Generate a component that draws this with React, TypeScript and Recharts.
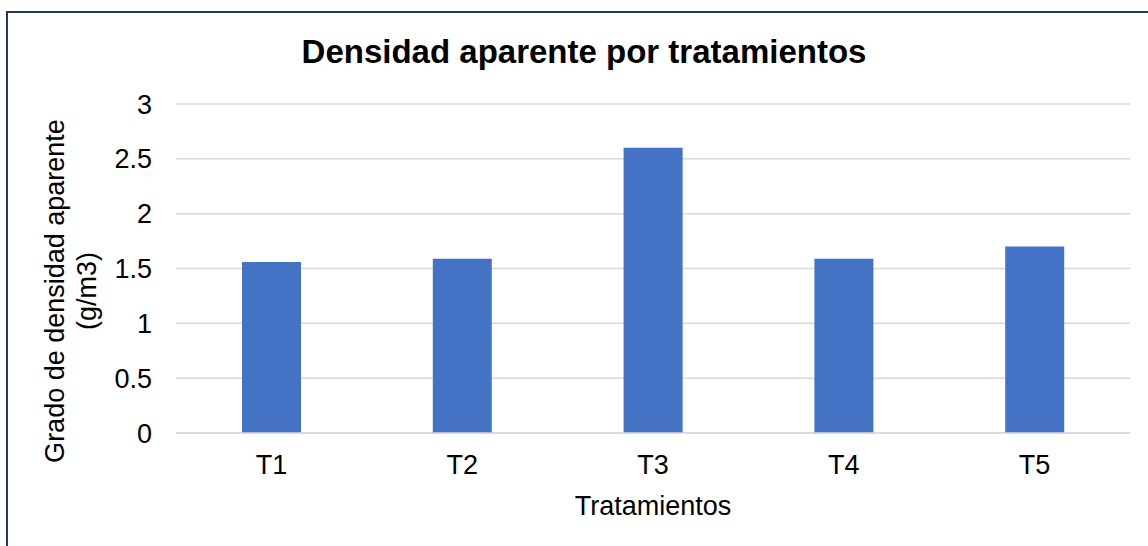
import { BarChart, Bar, XAxis, YAxis, CartesianGrid } from 'recharts';

const categories = ['T1', 'T2', 'T3', 'T4', 'T5'];
const densidad = [1.56, 1.59, 2.6, 1.59, 1.7];
const yTicks = [0, 0.5, 1, 1.5, 2, 2.5, 3];

const data = categories.map((c, i) => ({ tratamiento: c, densidad: densidad[i] }));

const FONT = '"Liberation Sans", Arial, sans-serif';

const renderYLabel = () => (
  <text fontSize={27} fill="#000" fontFamily={FONT} textAnchor="middle" transform="rotate(-90 64 291)">
    <tspan x={64} y={291}>Grado de densidad aparente</tspan>
    <tspan x={64} y={323}>(g/m3)</tspan>
  </text>
);

const renderXLabel = (props: any) => {
  const vb = props.viewBox || {};
  return (
    <text x={vb.x + vb.width / 2} y={515} fontSize={27} fill="#000" fontFamily={FONT} textAnchor="middle">
      Tratamientos
    </text>
  );
};

export default function App() {
  return (
    <div
      style={{
        position: 'absolute',
        left: 0,
        top: 0,
        width: 1148,
        height: 546,
        background: '#fff',
        overflow: 'hidden',
        fontFamily: FONT,
      }}
    >
      <div
        style={{
          position: 'absolute',
          left: 6,
          top: 11,
          width: 1200,
          height: 600,
          borderTop: '2px solid #203864',
          borderLeft: '2px solid #203864',
        }}
      />
      <svg width={1148} height={80} style={{ position: 'absolute', left: 0, top: 0 }}>
        <text x={584} y={63} textAnchor="middle" fontSize={33} fontWeight="bold" fill="#000" fontFamily={FONT}>
          Densidad aparente por tratamientos
        </text>
      </svg>
      <div style={{ position: 'absolute', left: 0, top: 0 }}>
        <BarChart
          width={1148}
          height={546}
          data={data}
          margin={{ top: 104, right: 18, bottom: 0, left: 0 }}
          barSize={59}
        >
          <CartesianGrid horizontal vertical={false} stroke="#d9d9d9" strokeWidth={1.5} />
          <XAxis
            dataKey="tratamiento"
            height={113}
            tickLine={false}
            tickSize={0}
            tickMargin={22}
            axisLine={{ stroke: '#d9d9d9', strokeWidth: 1.5 }}
            tick={{ fill: '#000', fontSize: 27, fontFamily: FONT }}
            label={renderXLabel}
          />
          <YAxis
            width={176}
            domain={[0, 3]}
            ticks={yTicks}
            axisLine={false}
            tickLine={false}
            tickSize={0}
            tickMargin={24}
            tick={{ fill: '#000', fontSize: 27, fontFamily: FONT }}
            label={renderYLabel}
          />
          <Bar dataKey="densidad" fill="#4472C4" isAnimationActive={false} />
        </BarChart>
      </div>
    </div>
  );
}
